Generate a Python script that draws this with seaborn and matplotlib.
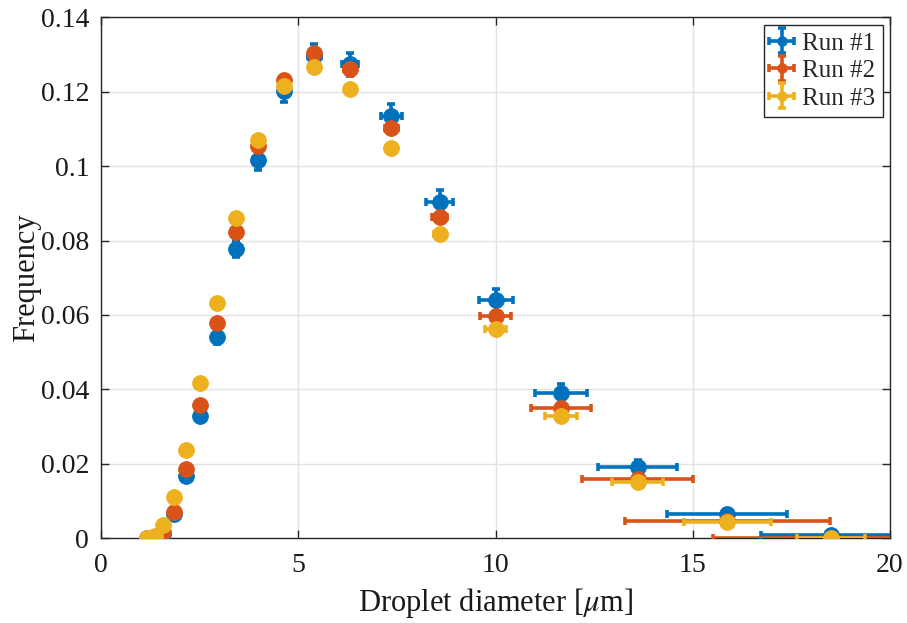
import numpy as np
import pandas as pd
import matplotlib
matplotlib.use("Agg")
import matplotlib.pyplot as plt
from matplotlib.lines import Line2D
import seaborn as sns

# Bin centres of the droplet size distribution [um]
diameter = [1.17, 1.36, 1.58, 1.85, 2.15, 2.51, 2.93, 3.41, 3.98, 4.64,
            5.41, 6.31, 7.36, 8.58, 10.0, 11.66, 13.6, 15.87, 18.5]

# Frequency per bin for each run
freq_run1 = [0.0001, 0.0003, 0.0011, 0.0064, 0.0167, 0.0329, 0.0540, 0.0778, 0.1016, 0.1201,
             0.1297, 0.1274, 0.1135, 0.0904, 0.0640, 0.0389, 0.0191, 0.0066, 0.0009]
freq_run2 = [0.0001, 0.0003, 0.0018, 0.0071, 0.0186, 0.0358, 0.0578, 0.0822, 0.1054, 0.1231,
             0.1304, 0.1261, 0.1102, 0.0863, 0.0597, 0.0349, 0.0159, 0.0046, 0.0001]
freq_run3 = [0.0001, 0.0005, 0.0035, 0.0110, 0.0237, 0.0416, 0.0631, 0.0860, 0.1070, 0.1216,
             0.1267, 0.1208, 0.1048, 0.0817, 0.0562, 0.0329, 0.0151, 0.0044, 0.0001]

# Uncertainty in frequency
yerr_run1 = [0.0002, 0.0003, 0.0005, 0.0008, 0.0010, 0.0014, 0.0018, 0.0022, 0.0026, 0.0030,
             0.0031, 0.0031, 0.0031, 0.0031, 0.0029, 0.0025, 0.0018, 0.0012, 0.0006]
yerr_run2 = [0.0001, 0.0002, 0.0003, 0.0004, 0.0005, 0.0006, 0.0007, 0.0008, 0.0009, 0.0010,
             0.0010, 0.0010, 0.0010, 0.0009, 0.0008, 0.0007, 0.0006, 0.0004, 0.0002]
yerr_run3 = [0.0001, 0.0001, 0.0002, 0.0003, 0.0003, 0.0004, 0.0004, 0.0005, 0.0005, 0.0005,
             0.0005, 0.0005, 0.0005, 0.0005, 0.0005, 0.0004, 0.0004, 0.0003, 0.0002]

# Uncertainty in diameter [um]
xerr_run1 = [0.03, 0.04, 0.05, 0.06, 0.07, 0.08, 0.09, 0.10, 0.12, 0.14,
             0.17, 0.20, 0.26, 0.34, 0.43, 0.66, 1.00, 1.53, 1.77]
xerr_run2 = [0.02, 0.03, 0.04, 0.05, 0.06, 0.07, 0.08, 0.09, 0.10, 0.11,
             0.13, 0.15, 0.17, 0.20, 0.40, 0.76, 1.40, 2.60, 3.00]
xerr_run3 = [0.02, 0.02, 0.03, 0.03, 0.04, 0.04, 0.05, 0.06, 0.07, 0.08,
             0.09, 0.10, 0.12, 0.15, 0.27, 0.41, 0.65, 1.10, 0.87]

run_labels = ["Run #1", "Run #2", "Run #3"]
run_colors = ["#0072BD", "#D95319", "#EDB120"]

x_ticks = [0, 5, 10, 15, 20]
y_ticks = [0, 0.02, 0.04, 0.06, 0.08, 0.1, 0.12, 0.14]
y_ticklabels = ["0", "0.02", "0.04", "0.06", "0.08", "0.1", "0.12", "0.14"]

runs = pd.concat([
    pd.DataFrame({"diameter": diameter, "freq": f, "xerr": xe, "yerr": ye, "run": lab})
    for f, xe, ye, lab in zip(
        [freq_run1, freq_run2, freq_run3],
        [xerr_run1, xerr_run2, xerr_run3],
        [yerr_run1, yerr_run2, yerr_run3],
        run_labels)
], ignore_index=True)

sns.set_theme(style="ticks")
plt.rcParams["font.family"] = ["Liberation Serif", "DejaVu Serif"]
plt.rcParams["mathtext.fontset"] = "stix"

fig = plt.figure(figsize=(9.07, 6.23), dpi=100)
ax = fig.add_axes([0.1114, 0.136, 0.8699, 0.8364])

edge = "#262626"
handles = []
for i, (lab, col) in enumerate(zip(run_labels, run_colors)):
    sub = runs[runs["run"] == lab]
    cont = ax.errorbar(sub["diameter"], sub["freq"], xerr=sub["xerr"], yerr=sub["yerr"],
                       fmt="none", ecolor=col, elinewidth=2.6, capsize=2.6, capthick=2.6,
                       zorder=3 + 2 * i)
    sns.scatterplot(data=sub, x="diameter", y="freq", ax=ax, color=col, s=130,
                    edgecolor=col, linewidth=0.6, legend=False, zorder=4 + 2 * i)
    dot = Line2D([], [], marker="o", ls="none", color=col, markersize=6.5)
    handles.append((cont, dot))

ax.set_xlim(0, 20)
ax.set_ylim(0, 0.14)
ax.set_xticks(x_ticks)
ax.set_xticklabels([str(t) for t in x_ticks])
ax.set_yticks(y_ticks)
ax.set_yticklabels(y_ticklabels)

ax.grid(True, color="#e3e3e3", linewidth=1.0, zorder=0)
ax.set_axisbelow(True)
for side in ["top", "right", "bottom", "left"]:
    ax.spines[side].set_visible(True)
    ax.spines[side].set_color(edge)
    ax.spines[side].set_linewidth(1.0)
ax.tick_params(direction="in", length=6, width=1.0, color=edge, labelsize=20,
               top=True, right=True, labelcolor="#1a1a1a")
ax.tick_params(axis="x", pad=10.5)
ax.tick_params(axis="y", pad=8.5)

ax.set_xlabel(r"Droplet diameter [$\mu$m]", fontsize=22, color="#1a1a1a", labelpad=6)
ax.set_ylabel("Frequency", fontsize=22, color="#1a1a1a", labelpad=0)

leg = ax.legend(handles, run_labels, loc="upper right", fontsize=18, frameon=True,
                fancybox=False, edgecolor=edge, framealpha=1.0, borderaxespad=0.3,
                handlelength=0.8, handletextpad=0.4, labelspacing=0.2, borderpad=0.3)
leg.get_frame().set_linewidth(1.0)

fig.savefig("out.png", dpi=100)
